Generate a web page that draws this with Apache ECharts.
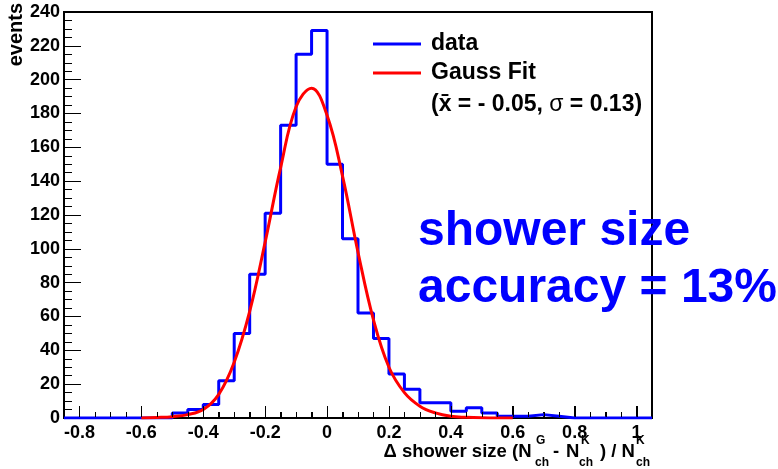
<!DOCTYPE html>
<html><head><meta charset="utf-8">
<script src="https://cdn.jsdelivr.net/npm/echarts@6/dist/echarts.min.js"></script>
<style>html,body{margin:0;padding:0;background:#fff}#c{width:778px;height:469px}</style>
</head><body><div id="c"></div>
<script>
// Histogram: bins of width 0.05 starting at -0.85
const binLow = -0.85;
const binWidth = 0.05;
const counts = [0,0,0,0,0,0,0,3,5,8,22,50,85,121,173,215,229,150,106,62,47,26,17,9,9,4,6,3,1,1,2,1,0,0,0,0,0,0];
// Gauss fit curve
const fitX = [-0.6,-0.55,-0.5,-0.45,-0.4,-0.35,-0.3,-0.25,-0.2,-0.15,-0.1,-0.05,0,0.05,0.1,0.15,0.2,0.25,0.3,0.35,0.4,0.45,0.5,0.55,0.6];
const fitY = [0,0.3,0.8,2,5,14,33,63,104,148,184,195,179,143,98,58,30,15,7,3,1,0.4,0.1,0,0];
// x tick label positions (labels print as -0.8 ... 1)
const xMajorTicks = [-0.8,-0.6,-0.4,-0.2,0,0.2,0.4,0.6,0.8,1];
const legendNames = ['data','Gauss Fit'];
const annotation = ['shower size','accuracy = 13%'];

const FONT = 'Liberation Sans, Arial, Helvetica, sans-serif';
const r2 = v => Math.round(v * 100) / 100;

const histData = counts.map((c, i) => [r2(binLow + i * binWidth), c]);
histData.push([r2(binLow + counts.length * binWidth), counts[counts.length - 1]]);
const xMin = binLow, xMax = r2(binLow + counts.length * binWidth);
const fitData = fitX.map((x, i) => [x, fitY[i]]);
const xMinorTicks = [];
for (let i = 1; i < counts.length; i++) {
  const v = r2(binLow + i * binWidth);
  if (xMajorTicks.indexOf(v) < 0) xMinorTicks.push(v);
}

const chart = echarts.init(document.getElementById('c'), null, {renderer: 'canvas'});
const bold = {fontFamily: FONT, fontWeight: 'bold', color: '#000'};
const T = (x, y, text, size, extra) => ({type: 'text', x: x, y: y, style: Object.assign({text: text, fontFamily: FONT, fontWeight: 'bold', fontSize: size, fill: '#000', verticalAlign: 'middle'}, extra || {})});
const eventsTitle = T(16, 3, 'events', 20, {align: 'right'});
eventsTitle.rotation = Math.PI / 2;
// x-axis tick marks, drawn through the axis scale
const tickSeries = (values, len) => ({
  type: 'custom', silent: true, z: 10, zlevel: 1, clip: false,
  data: values.map(v => [v, 0]),
  renderItem: (params, api) => {
    const p = api.coord([api.value(0), 0]);
    return {type: 'line', shape: {x1: Math.round(p[0]) + 0.5, y1: p[1] - 1, x2: Math.round(p[0]) + 0.5, y2: p[1] - 1 - len},
      style: {stroke: '#000', lineWidth: 1, fill: null}};
  }
});
chart.setOption({
  animation: false,
  backgroundColor: '#fff',
  grid: {left: 64, right: 126, top: 12, bottom: 51, show: true, borderColor: '#000', borderWidth: 2},
  legend: {
    orient: 'vertical', left: 373, top: 32, padding: 0, itemWidth: 48, itemHeight: 3, icon: 'rect', itemGap: 5,
    data: legendNames,
    textStyle: Object.assign({fontSize: 23, lineHeight: 24, padding: [0, 0, 0, 5]}, bold)
  },
  xAxis: {
    type: 'value', min: xMin, max: xMax, splitNumber: 10, minInterval: 0.2, maxInterval: 0.2,
    axisLine: {show: true, onZero: false, lineStyle: {color: '#000', width: 2}},
    axisTick: {show: true, inside: true, length: 12, lineStyle: {color: '#000', width: 1}},
    minorTick: {show: true, splitNumber: 4, length: 6, lineStyle: {color: '#000', width: 1}},
    axisLabel: Object.assign({fontSize: 18, margin: 6, customValues: xMajorTicks}, bold),
    splitLine: {show: false}, minorSplitLine: {show: false}
  },
  yAxis: {
    type: 'value', min: 0, max: 240, interval: 20,
    axisLine: {show: true, onZero: false, lineStyle: {color: '#000', width: 2}},
    axisTick: {show: true, inside: true, length: 17, lineStyle: {color: '#000', width: 1}},
    minorTick: {show: true, splitNumber: 4, length: 8, lineStyle: {color: '#000', width: 1}},
    axisLabel: Object.assign({fontSize: 18, margin: 4}, bold),
    splitLine: {show: false}, minorSplitLine: {show: false}
  },
  series: [
    tickSeries(xMajorTicks, 11),
    tickSeries(xMinorTicks, 5),
    {
      name: legendNames[0], type: 'line', step: 'end', data: histData,
      showSymbol: false, symbol: 'none', color: '#0000ff',
      lineStyle: {color: '#0000ff', width: 3}, z: 3
    }, {
      name: legendNames[1], type: 'line', smooth: 0.4, data: fitData,
      showSymbol: false, symbol: 'none', color: '#ff0000',
      lineStyle: {color: '#ff0000', width: 3}, z: 4
    }],
  graphic: [
    {type: 'text', left: 431, top: 93, style: {text: '{b|(x\u0304 = - 0.05, }{s|σ}{b| = 0.13)}', rich: {
      b: {fontFamily: FONT, fontWeight: 'bold', fontSize: 23, fill: '#000'},
      s: {fontFamily: FONT, fontWeight: 'normal', fontSize: 23, fill: '#000'}}}},
    eventsTitle,
    T(418, 232, annotation[0], 48, {fill: '#0000ff'}),
    T(418, 289, annotation[1], 48, {fill: '#0000ff'}),
    // x-axis title pieces
    T(531.5, 452, 'Δ shower size (N', 18.5, {align: 'right'}),
    T(536, 441, 'G', 12),
    T(535, 463, 'ch', 12),
    T(553, 452, '-', 18.5),
    T(566, 452, 'N', 18.5),
    T(581, 441, 'K', 12),
    T(579, 463, 'ch', 12),
    T(600, 452, ') / N', 18.5),
    T(636, 441, 'K', 12),
    T(636, 463, 'ch', 12)
  ]
});
</script></body></html>
